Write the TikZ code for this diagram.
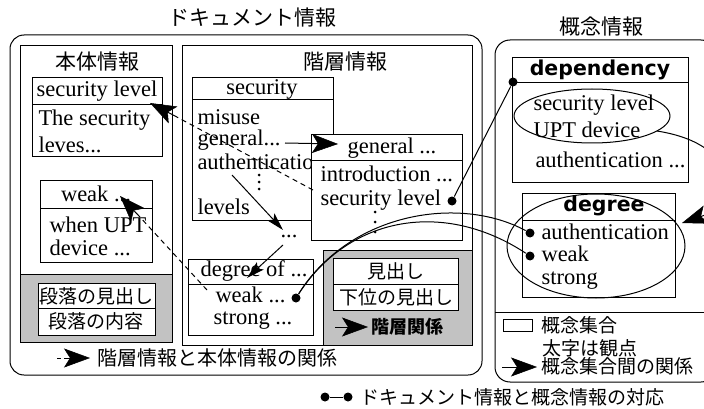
\documentclass[tikz,border=0pt]{standalone}
\usepackage{fontspec}
\setmainfont{Liberation Serif}
\newfontfamily\jp{Noto Sans CJK JP}
\newfontfamily\dv{DejaVu Sans}
\usetikzlibrary{arrows.meta,shapes.geometric}
\begin{document}
\begin{tikzpicture}[x=1pt,y=-1pt,line width=1pt,
  lat/.style={font=\fontsize{22.5}{25}\selectfont, inner sep=0pt},
  jpt/.style={font=\jp\fontsize{19}{22}\selectfont, inner sep=0pt},
  jbig/.style={font=\jp\fontsize{21}{24}\selectfont, inner sep=0pt},
  hd/.style={font=\dv\bfseries\fontsize{20.5}{24}\selectfont, inner sep=0pt},
  dotn/.style={circle, fill=black, inner sep=0pt, minimum size=9pt},
  vdot/.style={circle, fill=black, inner sep=0pt, minimum size=3pt},
  shade/.style={fill=black!24},
  big/.style={-{Stealth[length=26pt,width=19pt,inset=6pt,line width=0.5pt]}},
  med/.style={-{Stealth[length=18pt,width=10pt,inset=4pt]}},
  dsh/.style={dash pattern=on 5pt off 4pt}]
\useasboundingbox (0,0) rectangle (704,409);
\clip (0,0) rectangle (704,409);

% titles
\node[jbig] (t1) at (252,18) {ドキュメント情報};
\node[jbig] (t2) at (601,27) {概念情報};

% document outer box
\draw[rounded corners=14pt] (10,35) rectangle (482,375);

% 本体情報
\draw[shade] (20,274) rectangle (172,342);
\draw (20,46) rectangle (172,342);
\node[jbig] (hl) at (97,62) {本体情報};
\draw[fill=white] (32,78) rectangle (162,157);
\draw (32,105) -- (162,105);
\node[lat] (slh) at (97,91) {security level};
\node[lat,anchor=west] (slb1) at (38,120) {The security};
\node[lat,anchor=west] (slb2) at (38,145) {leves...};
\draw[fill=white] (40,180) rectangle (152,262);
\draw (40,208) -- (152,208);
\node[lat] (wkh) at (96,194) {weak ...};
\node[lat,anchor=west] (wk1) at (49,225) {when UPT};
\node[lat,anchor=west] (wk2) at (49,248) {device ...};
\draw[fill=white] (38,283) rectangle (155,335);
\draw (38,308) -- (155,308);
\node[jpt] (p1) at (96,296) {段落の見出し};
\node[jpt] (p2) at (96,321) {段落の内容};

% 階層情報
\draw[shade] (323,250) rectangle (472,345);
\draw (182,46) rectangle (472,345);
\node[jbig] (kl) at (345,62) {階層情報};
\draw[fill=white] (192,78) rectangle (333,220);
\draw (192,100) -- (333,100);
\node[lat] (sech) at (262,89) {security};
\node[lat,anchor=west] (s1) at (197,117) {misuse};
\node[lat,anchor=west] (s2) at (197,140) {general...};
\node[lat,anchor=west] (s3) at (197,162) {authentication};
\node[vdot] (sv1) at (259,175) {};
\node[vdot] (sv2) at (259,182) {};
\node[vdot] (sv3) at (259,189) {};
\node[lat,anchor=west] (s4) at (197,207) {levels};
\draw[fill=white] (311,135) rectangle (462,240);
\draw (311,160) -- (462,160);
\node[lat] (genh) at (392,148) {general ...};
\node[lat,anchor=west] (g1) at (320,174) {introduction ...};
\node[lat,anchor=west] (g2) at (320,200) {security level};
\node[vdot] (gv1) at (375,212) {};
\node[vdot] (gv2) at (375,222) {};
\node[vdot] (gv3) at (375,232) {};
\node[lat] (mdots) at (289,236) {...};
\draw[fill=white] (188,259) rectangle (313,335);
\draw (188,284) -- (313,284);
\node[lat] (degh) at (254,271) {degree of ...};
\node[lat,anchor=west] (dw) at (215,295) {weak ...};
\node[lat,anchor=west] (ds) at (213,321) {strong ...};
\draw[fill=white] (333,258) rectangle (458,310);
\draw (333,284) -- (458,284);
\node[jpt] (m1) at (396,271) {見出し};
\node[jpt] (m2) at (396,297) {下位の見出し};
\node[jpt,font=\jp\bfseries\fontsize{18}{22}\selectfont] (kk) at (407,327) {階層関係};
\coordinate (kka) at (335,327);
\coordinate (kkb) at (368,327);
\draw[big] (kka) -- (kkb);

% legend document
\coordinate (la) at (57,358);
\coordinate (lm) at (64,358);
\coordinate (lb) at (90,358);
\draw (la) -- (61,358);
\draw[big] (lm) -- (lb);
\node[jpt,font=\jp\fontsize{20}{24}\selectfont,anchor=west] (lt) at (97,358) {階層情報と本体情報の関係};

% concept box
\draw[rounded corners=15pt] (495,40) rectangle (716,382);
\draw (495,312) -- (716,312);
\draw[fill=white] (512,58) rectangle (688,182);
\draw (512,83) -- (688,83);
\node[hd] (deph) at (600,70) {dependency};
\node[lat,anchor=west] (d1) at (533,105) {security level};
\node[lat,anchor=west] (d2) at (533,130) {UPT device};
\node[lat,anchor=west] (d3) at (535,160) {authentication ...};
\node[ellipse,draw,inner sep=0pt,minimum width=156pt,minimum height=54pt] (de) at (592,116) {};
\draw[fill=white] (522,193) rectangle (675,297);
\draw (522,220) -- (675,220);
\node[hd] (dgh) at (604,206) {degree};
\node[lat,anchor=west] (a1) at (541,232) {authentication};
\node[lat,anchor=west] (a2) at (541,254) {weak};
\node[lat,anchor=west] (a3) at (541,281) {strong};
\node[ellipse,draw,inner sep=0pt,minimum width=178pt,minimum height=104pt] (dge) at (596,246) {};

% concept legend
\node[draw,inner sep=0pt,minimum width=29pt,minimum height=12pt] (lr) at (517.5,325) {};
\node[jpt,anchor=west] (c1) at (541,325) {概念集合};
\node[jpt] (c2) at (590,348) {太字は観点};
\coordinate (ca) at (502,367);
\coordinate (cb) at (537,367);
\draw[big] (ca) -- (cb);
\node[jpt,anchor=west] (c3) at (541,366) {概念集合間の関係};

% bottom legend
\node[dotn] (bd1) at (325,397) {};
\node[dotn] (bd2) at (348,397) {};
\draw (bd1) -- (bd2);
\node[jpt,anchor=west] (bt) at (360,397) {ドキュメント情報と概念情報の対応};

% dots
\node[dotn] (gdot) at (452,201) {};
\node[dotn] (ddot) at (513,82) {};
\node[dotn] (wdot) at (296,298) {};
\node[dotn] (adot) at (530,233) {};
\node[dotn] (wkdot) at (530,256) {};

% connectors
\coordinate (sltip) at (150,103);
\coordinate (slmid) at (175,116);
\coordinate (gslst) at (313,190);
\draw[dsh] (gslst) -- (slmid);
\draw[big] (slmid) -- (sltip);
\coordinate (wktip) at (120,196);
\coordinate (wkmid) at (139,216);
\coordinate (dwst) at (207,290);
\draw[dsh] (dwst) -- (wkmid);
\draw[big] (wkmid) -- (wktip);
\coordinate (gentip) at (338,144);
\coordinate (s2e) at (285,143);
\draw[big] (s2e) -- (gentip);
\coordinate (autst) at (232,175);
\coordinate (dtop) at (283,230);
\draw[med] (autst) -- (dtop);
\coordinate (dbot) at (283,245);
\coordinate (degtip) at (247,278);
\draw[med] (dbot) -- (degtip);
\draw (gdot) -- (ddot);
\draw (wdot) .. controls (350,212) and (460,195) .. (adot);
\draw (wdot) .. controls (350,215) and (445,200) .. (wkdot);
\coordinate (upt) at (657,131);
\coordinate (dgtip) at (682,223);
\draw[big] (upt) .. controls (745,145) and (735,205) .. (dgtip);
\end{tikzpicture}
\end{document}
